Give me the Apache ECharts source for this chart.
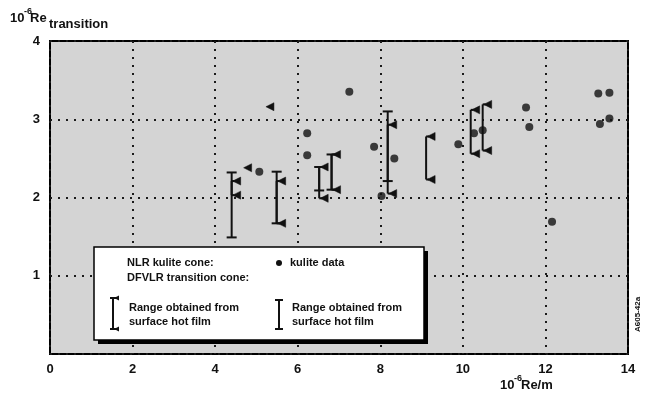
<!DOCTYPE html>
<html>
<head>
<meta charset="utf-8">
<script src="https://cdn.jsdelivr.net/npm/echarts@6/dist/echarts.min.js"></script>
<style>
  html, body { margin: 0; padding: 0; background: #fff; }
  #chart { width: 645px; height: 398px; }
</style>
</head>
<body>
<div id="chart"></div>
<script>
// Transition Reynolds number versus unit Reynolds number
const xTicks = [0, 2, 4, 6, 8, 10, 12, 14];
const yTicks = [1, 2, 3, 4];

// NLR kulite cone: kulite data points [Re/m, Re transition]
const kuliteData = [
  [5.07, 2.33], [6.23, 2.82], [6.23, 2.54], [7.25, 3.35], [7.85, 2.65],
  [8.03, 2.02], [8.34, 2.50], [9.89, 2.68], [10.27, 2.82], [10.48, 2.86],
  [11.53, 3.15], [11.61, 2.90], [12.16, 1.69], [13.28, 3.33], [13.55, 3.34],
  [13.32, 2.94], [13.55, 3.01]
];

// NLR kulite cone: range obtained from surface hot film [Re/m, low, high]
const nlrRanges = [
  [4.40, 2.03, 2.21], [4.69, 2.38, 2.38], [5.23, 3.16, 3.16],
  [5.49, 1.67, 2.21], [6.52, 1.99, 2.39], [6.82, 2.10, 2.55],
  [8.18, 2.05, 2.93], [9.11, 2.23, 2.78], [10.19, 2.56, 3.12],
  [10.48, 2.60, 3.19]
];

// DFVLR transition cone: range obtained from surface hot film [Re/m, low, high]
const dfvlrRanges = [
  [4.40, 1.49, 2.32], [5.49, 1.67, 2.33], [6.52, 2.09, 2.39],
  [6.82, 2.10, 2.55], [8.18, 2.21, 3.10]
];

const FONT = '"Liberation Sans", Arial, sans-serif';
const INK = '#111';

function flag(x, y) {
  return {
    type: 'polygon',
    shape: { points: [[x, y], [x + 8, y - 4], [x + 8, y + 4]] },
    style: { fill: INK, stroke: INK, lineWidth: 0.5 }
  };
}

function renderNlr(params, api) {
  const top = api.coord([api.value(0), api.value(2)]);
  const bot = api.coord([api.value(0), api.value(1)]);
  const st = { stroke: INK, lineWidth: 2 };
  const children = [];
  if (Math.abs(bot[1] - top[1]) > 0.5) {
    children.push({ type: 'line', shape: { x1: top[0], y1: top[1], x2: bot[0], y2: bot[1] }, style: st });
    children.push({ type: 'line', shape: { x1: top[0], y1: top[1], x2: top[0] + 3, y2: top[1] }, style: st });
    children.push({ type: 'line', shape: { x1: bot[0], y1: bot[1], x2: bot[0] + 3, y2: bot[1] }, style: st });
    children.push(flag(top[0] + 1, top[1]));
    children.push(flag(bot[0] + 1, bot[1]));
  } else {
    children.push(flag(top[0], top[1]));
  }
  return { type: 'group', children };
}

function renderDfvlr(params, api) {
  const top = api.coord([api.value(0), api.value(2)]);
  const bot = api.coord([api.value(0), api.value(1)]);
  const half = 5;
  const st = { stroke: INK, lineWidth: 2 };
  return {
    type: 'group',
    children: [
      { type: 'line', shape: { x1: top[0], y1: top[1], x2: bot[0], y2: bot[1] }, style: st },
      { type: 'line', shape: { x1: top[0] - half, y1: top[1], x2: top[0] + half, y2: top[1] }, style: st },
      { type: 'line', shape: { x1: bot[0] - half, y1: bot[1], x2: bot[0] + half, y2: bot[1] }, style: st }
    ]
  };
}

const chart = echarts.init(document.getElementById('chart'), null, { renderer: 'canvas' });

const gridLine = { show: true, lineStyle: { color: '#1a1a1a', width: 2, type: [2, 6] } };

const Z = 110;
const txt = (x, y, text, font, extra) => Object.assign({
  type: 'text', x, y, z: Z,
  style: { text, font, fill: INK, textVerticalAlign: 'middle' }
}, extra || {});
const legendText = (x, y, text) => txt(x, y, text, 'bold 11px ' + FONT);
const seg = (x1, y1, x2, y2) => ({
  type: 'line', z: Z, shape: { x1, y1, x2, y2 }, style: { stroke: INK, lineWidth: 2 }
});
const tri = (pts) => ({ type: 'polygon', z: Z, shape: { points: pts }, style: { fill: INK } });

const bold13 = 'bold 13px ' + FONT;
const bold9 = 'bold 9px ' + FONT;

chart.setOption({
  animation: false,
  backgroundColor: '#fff',
  grid: {
    left: 50, right: 17, top: 41, bottom: 44,
    show: true, backgroundColor: '#d4d4d4', borderColor: '#000', borderWidth: 2
  },
  xAxis: {
    type: 'value', min: xTicks[0], max: xTicks[xTicks.length - 1], interval: 2,
    axisLine: { show: false }, axisTick: { show: false },
    axisLabel: { margin: 9, color: INK, fontSize: 13, fontWeight: 'bold', fontFamily: FONT },
    splitLine: gridLine
  },
  yAxis: {
    type: 'value', min: 0, max: yTicks[yTicks.length - 1], interval: 1,
    axisLine: { show: false }, axisTick: { show: false },
    axisLabel: {
      margin: 10, color: INK, fontSize: 13, fontWeight: 'bold', fontFamily: FONT,
      formatter: v => (yTicks.includes(v) ? String(v) : '')
    },
    splitLine: gridLine
  },
  graphic: [
    // y axis title
    txt(10, 18, '10', bold13),
    txt(24, 12, '-6', bold9),
    txt(30, 18, 'Re', bold13),
    txt(49, 24, 'transition', bold13),
    // x axis title
    txt(500, 385, '10', bold13),
    txt(514, 379, '-6', bold9),
    txt(521, 385, 'Re/m', bold13),
    // drawing reference
    {
      type: 'text', x: 634, y: 332, rotation: Math.PI / 2, z: Z,
      style: { text: 'A605-42a', font: 'bold 8px ' + FONT, fill: INK }
    },
    // legend panel with drop shadow
    { type: 'rect', z: 100, shape: { x: 98, y: 251, width: 330, height: 93 }, style: { fill: '#000' } },
    { type: 'rect', z: 101, shape: { x: 94, y: 247, width: 330, height: 93 }, style: { fill: '#fff', stroke: '#000', lineWidth: 1.5 } },
    legendText(127, 263, 'NLR kulite cone:'),
    legendText(127, 278, 'DFVLR transition cone:'),
    { type: 'circle', z: Z, shape: { cx: 279, cy: 263, r: 3 }, style: { fill: INK } },
    legendText(290, 263, 'kulite data'),
    // NLR hot film symbol
    seg(113, 298, 113, 329),
    seg(110, 298, 116, 298),
    seg(110, 329, 116, 329),
    tri([[114, 298], [119, 295.5], [119, 300.5]]),
    tri([[114, 329], [119, 326.5], [119, 331.5]]),
    legendText(129, 308, 'Range obtained from'),
    legendText(129, 322, 'surface hot film'),
    // DFVLR hot film symbol
    seg(279, 300, 279, 329),
    seg(275, 300, 283, 300),
    seg(275, 329, 283, 329),
    legendText(292, 308, 'Range obtained from'),
    legendText(292, 322, 'surface hot film')
  ],
  series: [
    {
      name: 'DFVLR hot film', type: 'custom', renderItem: renderDfvlr,
      encode: { x: 0, y: [1, 2] }, data: dfvlrRanges, z: 5
    },
    {
      name: 'NLR hot film', type: 'custom', renderItem: renderNlr,
      encode: { x: 0, y: [1, 2] }, data: nlrRanges, z: 6
    },
    {
      name: 'kulite data', type: 'scatter', symbol: 'circle', symbolSize: 8,
      itemStyle: { color: INK }, data: kuliteData, z: 7
    }
  ]
});
</script>
</body>
</html>
